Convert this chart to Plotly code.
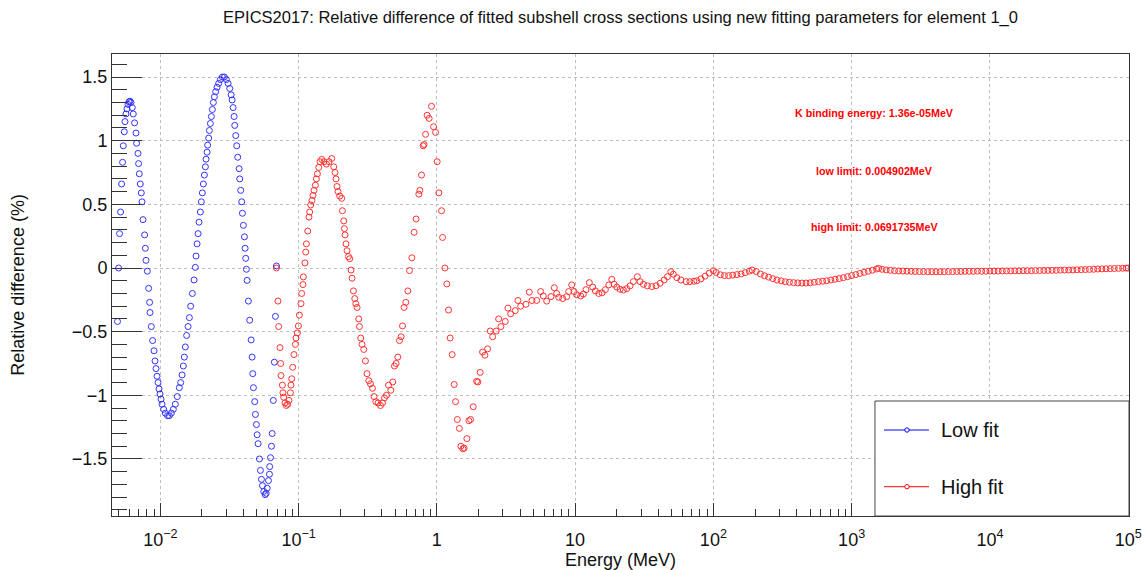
import plotly.graph_objects as go

# ---- Low-energy fit: relative difference (%) vs energy (MeV) ----
low_energy = [
    0.004902, 0.004989, 0.005073, 0.005160, 0.005246, 0.005333, 0.005396, 0.005486,
    0.005551, 0.005643, 0.005739, 0.005835, 0.005934, 0.006033, 0.006134, 0.006268,
    0.006374, 0.006514, 0.006668, 0.006736, 0.006894, 0.006965, 0.007046, 0.007165,
    0.007286, 0.007372, 0.007495, 0.007698, 0.007789, 0.007881, 0.008053, 0.008229,
    0.008367, 0.008423, 0.008607, 0.008795, 0.009004, 0.009155, 0.009309, 0.009465,
    0.009623, 0.009786, 0.009950, 0.01012, 0.01029, 0.01057, 0.01087, 0.01129,
    0.01162, 0.01201, 0.01242, 0.01284, 0.01327, 0.01372, 0.01403, 0.01436,
    0.01467, 0.01492, 0.01517, 0.01550, 0.01587, 0.01622, 0.01657, 0.01705,
    0.01754, 0.01792, 0.01813, 0.01844, 0.01875, 0.01906, 0.01948, 0.01981,
    0.02014, 0.02048, 0.02083, 0.02118, 0.02142, 0.02179, 0.02200, 0.02237,
    0.02263, 0.02301, 0.02340, 0.02379, 0.02419, 0.02460, 0.02514, 0.02573,
    0.02643, 0.02719, 0.02812, 0.02907, 0.03006, 0.03092, 0.03176, 0.03251,
    0.03306, 0.03361, 0.03418, 0.03452, 0.03510, 0.03569, 0.03629, 0.03715,
    0.03752, 0.03815, 0.03879, 0.03925, 0.03990, 0.04058, 0.04105, 0.04146,
    0.04195, 0.04244, 0.04337, 0.04432, 0.04537, 0.04613, 0.04660, 0.04714,
    0.04817, 0.04874, 0.04956, 0.05014, 0.05099, 0.05210, 0.05298, 0.05387,
    0.05478, 0.05598, 0.05730, 0.05827, 0.05925, 0.06055, 0.06157, 0.06180,
    0.06261, 0.06366, 0.06441, 0.06560, 0.06680, 0.06800, 0.0691735,
]
low_diff = [
    -0.42, 0.00, 0.27, 0.44, 0.66, 0.83, 0.96, 1.07,
    1.15, 1.21, 1.25, 1.285, 1.305, 1.31, 1.30, 1.26,
    1.21, 1.14, 1.06, 0.98, 0.90, 0.82, 0.74, 0.66,
    0.59, 0.52, 0.38, 0.26, 0.155, 0.06, -0.025, -0.16,
    -0.27, -0.35, -0.46, -0.57, -0.65, -0.73, -0.79, -0.85,
    -0.90, -0.95, -0.99, -1.03, -1.07, -1.11, -1.14, -1.16,
    -1.16, -1.14, -1.11, -1.07, -1.01, -0.94, -0.90, -0.84,
    -0.77, -0.70, -0.62, -0.53, -0.46, -0.39, -0.30, -0.20,
    -0.094, 0.005, 0.094, 0.19, 0.27, 0.36, 0.44, 0.52,
    0.59, 0.66, 0.73, 0.795, 0.855, 0.91, 0.965, 1.02,
    1.08, 1.135, 1.19, 1.245, 1.30, 1.345, 1.385, 1.42,
    1.45, 1.48, 1.50, 1.50, 1.48, 1.45, 1.41, 1.36,
    1.32, 1.26, 1.19, 1.12, 1.04, 0.96, 0.87, 0.78,
    0.70, 0.61, 0.52, 0.43, 0.335, 0.245, 0.155, 0.076,
    -0.01, -0.097, -0.26, -0.41, -0.565, -0.70, -0.83, -0.94,
    -1.05, -1.15, -1.23, -1.31, -1.38, -1.50, -1.59, -1.66,
    -1.71, -1.755, -1.78, -1.77, -1.73, -1.67, -1.62, -1.56,
    -1.49, -1.40, -1.30, -1.04, -0.74, -0.38, 0.016,
]

# ---- High-energy fit ----
high_energy = [
    0.0691735, 0.07093, 0.07177, 0.07334, 0.07421, 0.07457, 0.07634, 0.07709,
    0.07800, 0.07971, 0.08160, 0.08338, 0.08521, 0.08721, 0.08810, 0.08913,
    0.09064, 0.09262, 0.09480, 0.09577, 0.09802, 0.09968, 0.1013, 0.1041,
    0.1053, 0.1076, 0.1083, 0.1112, 0.1126, 0.1139, 0.1164, 0.1189,
    0.1203, 0.1223, 0.1250, 0.1271, 0.1293, 0.1323, 0.1345, 0.1368,
    0.1398, 0.1429, 0.1470, 0.1527, 0.1590, 0.1660, 0.1737, 0.1796,
    0.1835, 0.1866, 0.1897, 0.1929, 0.1984, 0.2051, 0.2075, 0.2121,
    0.2145, 0.2168, 0.2204, 0.2241, 0.2294, 0.2344, 0.2395, 0.2436,
    0.2493, 0.2548, 0.2591, 0.2648, 0.2724, 0.2755, 0.2816, 0.2878,
    0.2960, 0.3045, 0.3128, 0.3218, 0.3311, 0.3423, 0.3516, 0.3617,
    0.3758, 0.3911, 0.4044, 0.4181, 0.4323, 0.4470, 0.4644, 0.4801,
    0.4939, 0.5073, 0.5219, 0.5369, 0.5514, 0.5644, 0.5796, 0.5963,
    0.6166, 0.6343, 0.6592, 0.6850, 0.7082, 0.7408, 0.7532, 0.7748,
    0.7958, 0.8091, 0.8283, 0.8507, 0.8794, 0.9154, 0.9465, 0.9786,
    1.005, 1.034, 1.081, 1.100, 1.143, 1.181, 1.215, 1.248,
    1.291, 1.335, 1.366, 1.407, 1.455, 1.492, 1.542, 1.577,
    1.649, 1.705, 1.754, 1.832, 1.939, 1.981, 2.058, 2.142,
    2.227, 2.328, 2.432, 2.531, 2.688, 2.798, 2.907, 3.123,
    3.266, 3.418, 3.690, 3.859, 4.037, 4.411, 4.660, 4.874,
    5.272, 5.636, 5.886, 6.229, 6.692, 7.070, 7.359, 7.609,
    8.133, 8.693, 8.989, 9.450, 9.818, 10.27, 10.98, 11.47,
    11.99, 12.67, 13.41, 14.01, 14.82, 15.66, 16.55, 17.52,
    18.41, 19.13, 20.01, 21.14, 22.34, 23.64, 24.98, 26.39,
    28.21, 29.51, 31.18, 33.33, 35.86, 38.53, 41.19, 44.04,
    46.53, 49.23, 51.41, 54.41, 58.2, 63.5, 67.6, 72.4,
    75.9, 81.3, 87.1, 93.3, 100.0, 104.7, 112.2, 120.2,
    128.8, 138.0, 147.9, 158.5, 169.8, 182.0, 190.5, 204.2,
    218.8, 234.4, 251.2, 269.2, 288.4, 309.0, 331.1, 354.8,
    380.2, 407.4, 436.5, 467.7, 501.2, 537.0, 575.4, 616.6,
    660.7, 707.9, 758.6, 812.8, 871.0, 933.3, 1000.0, 1072.0,
    1148.0, 1230.0, 1318.0, 1413.0, 1514.0, 1567.0, 1660.0, 1778.0,
    1905.0, 2042.0, 2188.0, 2344.0, 2512.0, 2692.0, 2884.0, 3090.0,
    3311.0, 3548.0, 3802.0, 4074.0, 4365.0, 4677.0, 5012.0, 5370.0,
    5754.0, 6166.0, 6607.0, 7079.0, 7586.0, 8128.0, 8710.0, 9333.0,
    10000.0, 10720.0, 11480.0, 12300.0, 13180.0, 14130.0, 15140.0, 16220.0,
    17380.0, 18620.0, 19950.0, 21380.0, 22910.0, 24550.0, 26300.0, 28180.0,
    30200.0, 32360.0, 34670.0, 37150.0, 39810.0, 42660.0, 45710.0, 48980.0,
    52480.0, 56230.0, 60260.0, 64570.0, 69180.0, 74130.0, 79430.0, 85110.0,
    91200.0, 96600.0, 100000.0,
]
high_diff = [
    0.00, -0.26, -0.46, -0.625, -0.75, -0.845, -0.92, -0.98,
    -1.015, -1.06, -1.08, -1.07, -1.04, -0.98, -0.92, -0.87,
    -0.78, -0.68, -0.60, -0.55, -0.51, -0.455, -0.37, -0.28,
    -0.20, -0.13, -0.07, 0.04, 0.125, 0.19, 0.29, 0.40,
    0.44, 0.495, 0.53, 0.57, 0.61, 0.65, 0.70, 0.74,
    0.79, 0.835, 0.853, 0.835, 0.816, 0.835, 0.86, 0.795,
    0.75, 0.70, 0.64, 0.60, 0.565, 0.547, 0.45, 0.37,
    0.31, 0.26, 0.19, 0.136, 0.09, 0.073, -0.016, -0.08,
    -0.18, -0.24, -0.28, -0.31, -0.40, -0.46, -0.55, -0.60,
    -0.64, -0.73, -0.83, -0.885, -0.91, -0.945, -1.01, -1.05,
    -1.06, -1.08, -1.06, -1.02, -1.00, -0.92, -0.96, -0.895,
    -0.77, -0.75, -0.70, -0.57, -0.54, -0.455, -0.31, -0.27,
    -0.18, -0.02, 0.08, 0.28, 0.385, 0.58, 0.61, 0.73,
    0.96, 0.97, 1.05, 1.20, 1.175, 1.27, 1.11, 1.065,
    0.835, 0.59, 0.45, 0.24, 0.00, -0.125, -0.33, -0.55,
    -0.68, -0.915, -1.05, -1.19, -1.26, -1.40, -1.42, -1.415,
    -1.34, -1.20, -1.19, -1.09, -0.89, -0.895, -0.82, -0.66,
    -0.685, -0.635, -0.495, -0.54, -0.495, -0.40, -0.46, -0.42,
    -0.315, -0.36, -0.335, -0.255, -0.30, -0.285, -0.19, -0.255,
    -0.255, -0.185, -0.22, -0.26, -0.225, -0.155, -0.20, -0.23,
    -0.24, -0.225, -0.185, -0.133, -0.185, -0.21, -0.22, -0.205,
    -0.17, -0.115, -0.15, -0.18, -0.20, -0.195, -0.17, -0.133,
    -0.089, -0.128, -0.15, -0.167, -0.173, -0.162, -0.14, -0.107,
    -0.068, -0.107, -0.128, -0.14, -0.146, -0.139, -0.12, -0.094,
    -0.068, -0.029, -0.049, -0.076, -0.094, -0.107, -0.107, -0.104,
    -0.10, -0.085, -0.064, -0.04, -0.021, -0.035, -0.053, -0.06,
    -0.06, -0.056, -0.052, -0.047, -0.037, -0.025, -0.016, -0.028,
    -0.047, -0.061, -0.072, -0.084, -0.094, -0.101, -0.108, -0.112,
    -0.115, -0.117, -0.118, -0.118, -0.116, -0.112, -0.107, -0.104,
    -0.10, -0.094, -0.088, -0.083, -0.076, -0.068, -0.06, -0.052,
    -0.043, -0.034, -0.025, -0.017, -0.008, -0.003, -0.01, -0.015,
    -0.018, -0.021, -0.023, -0.024, -0.025, -0.026, -0.027, -0.028,
    -0.028, -0.029, -0.029, -0.029, -0.029, -0.029, -0.028, -0.028,
    -0.027, -0.027, -0.026, -0.026, -0.026, -0.025, -0.025, -0.025,
    -0.024, -0.024, -0.024, -0.023, -0.023, -0.023, -0.022, -0.022,
    -0.021, -0.021, -0.021, -0.02, -0.02, -0.019, -0.019, -0.018,
    -0.018, -0.017, -0.016, -0.016, -0.015, -0.014, -0.013, -0.012,
    -0.011, -0.01, -0.008, -0.007, -0.006, -0.005, -0.004, -0.003,
    -0.002, -0.001, 0.0,
]

x_tick_vals = [1e-2, 1e-1, 1, 10, 1e2, 1e3, 1e4, 1e5]
x_tick_text = ["10<sup>−2</sup>", "10<sup>−1</sup>", "1", "10",
               "10<sup>2</sup>", "10<sup>3</sup>", "10<sup>4</sup>", "10<sup>5</sup>"]
x_minor_vals = [m * 10.0 ** p for p in range(-3, 3) for m in range(2, 10)]

title_text = ("EPICS2017: Relative difference of fitted subshell cross sections "
              "using new fitting parameters for element 1_0")
info_lines = ["K binding energy: 1.36e-05MeV",
              "low limit: 0.004902MeV",
              "high limit: 0.0691735MeV"]
series_names = ["Low fit", "High fit"]
series_colors = ["#0000ff", "#ff0000"]

FONT = "Liberation Sans, Arial, Helvetica, sans-serif"

fig = go.Figure()
fig.add_trace(go.Scatter(
    x=low_energy, y=low_diff, mode="markers", name=series_names[0],
    marker=dict(symbol="circle-open", size=6, color=series_colors[0],
                line=dict(width=1, color=series_colors[0])),
    opacity=0.8,
))
fig.add_trace(go.Scatter(
    x=high_energy, y=high_diff, mode="markers", name=series_names[1],
    marker=dict(symbol="circle-open", size=6, color=series_colors[1],
                line=dict(width=1, color=series_colors[1])),
    opacity=0.8,
))

axis_common = dict(
    showline=True, linecolor="#333333", linewidth=1, mirror=True,
    ticks="inside", tickcolor="#333333", tickwidth=1,
    showgrid=True, gridcolor="#bdbdbd", griddash="dot", gridwidth=1,
    zeroline=False, automargin=False,
    tickfont=dict(family=FONT, size=18, color="#111111"),
)

fig.update_xaxes(
    type="log", range=[-2.3495, 5.006],
    tickmode="array", tickvals=x_tick_vals, ticktext=x_tick_text,
    ticklen=13, ticklabelstandoff=7,
    minor=dict(tickmode="array", tickvals=x_minor_vals, ticklen=7,
               tickcolor="#333333", ticks="inside", showgrid=False),
    title=dict(text="Energy (MeV)", font=dict(family=FONT, size=18, color="#111111"),
               standoff=9),
    **axis_common,
)
fig.update_yaxes(
    range=[-1.948, 1.681],
    tickmode="linear", tick0=0, dtick=0.5, ticklen=30,
    minor=dict(dtick=0.1, tick0=0, ticklen=15, tickcolor="#333333",
               ticks="inside", showgrid=False),
    title=dict(text="Relative difference (%)", font=dict(family=FONT, size=18, color="#111111"),
               standoff=42),
    **axis_common,
)

# info text block
info_y = [0.873, 0.747, 0.626]
annotations = []
for txt, yy in zip(info_lines, info_y):
    annotations.append(dict(
        x=0.7493, y=yy, xref="paper", yref="paper", text="<b>" + txt + "</b>",
        showarrow=False, xanchor="center", yanchor="middle",
        font=dict(family=FONT, size=10.7, color="#ff0000"),
    ))

# legend box drawn by hand
shapes = [dict(type="rect", xref="paper", yref="paper", x0=0.7502, x1=1.0, y0=0.0, y1=0.2489,
               line=dict(color="#444444", width=1), fillcolor="white", layer="above")]
legend_y = [0.1861, 0.0634]
for name, col, yy in zip(series_names, series_colors, legend_y):
    shapes.append(dict(type="line", xref="paper", yref="paper", x0=0.7591, x1=0.8033,
                       y0=yy, y1=yy, line=dict(color=col, width=1), layer="above"))
    shapes.append(dict(type="circle", xref="paper", yref="paper",
                       xsizemode="pixel", ysizemode="pixel", xanchor=0.7817, yanchor=yy,
                       x0=-2.2, x1=2.2, y0=-2.2, y1=2.2,
                       line=dict(color=col, width=1), fillcolor="white", layer="above"))
    annotations.append(dict(
        x=0.8132, y=yy, xref="paper", yref="paper", text=name, showarrow=False,
        xanchor="left", yanchor="middle",
        font=dict(family=FONT, size=20, color="#111111"),
    ))

fig.update_layout(
    width=1142, height=570,
    margin=dict(l=112, r=13, t=54, b=54, autoexpand=False),
    paper_bgcolor="white", plot_bgcolor="white",
    showlegend=False,
    title=dict(text=title_text, x=0.5, xref="paper", xanchor="center",
               y=1 - 17 / 570, yanchor="middle", yref="container",
               font=dict(family=FONT, size=16.5, color="#111111")),
    shapes=shapes,
    annotations=annotations,
)

fig.write_html("out.html")
